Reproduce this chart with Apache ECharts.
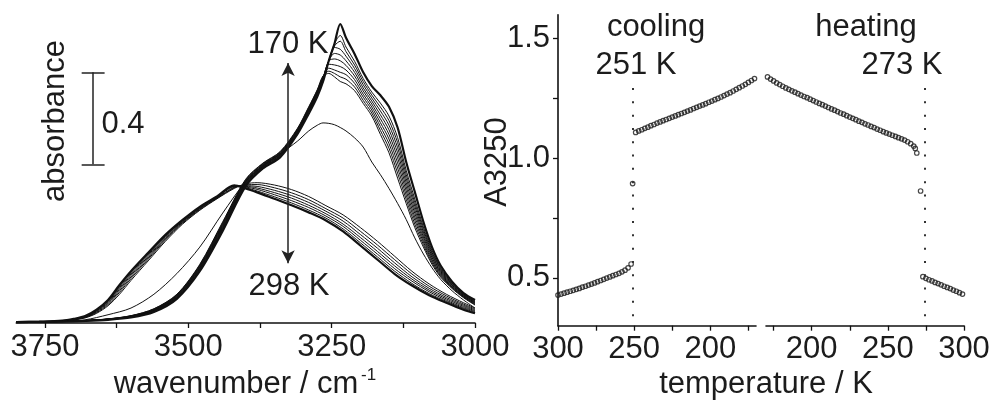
<!DOCTYPE html>
<html><head><meta charset="utf-8">
<script src="https://cdn.jsdelivr.net/npm/echarts@6/dist/echarts.min.js"></script>
<style>html,body{margin:0;padding:0;background:#fff}#c{width:995px;height:405px}</style>
</head><body><div id="c"></div><script>
// ---------- left panel: IR spectra ----------
const wnIce = [3800,3760,3720,3680,3640,3600,3560,3520,3480,3440,3400,3370,3340,3310,3290,3275,3265,3255,3245,3235,3225,3210,3195,3180,3165,3150,3135,3120,3105,3090,3075,3060,3040,3020,3000];
const ice0 = [0.004,0.005,0.006,0.009,0.014,0.024,0.048,0.105,0.225,0.400,0.595,0.672,0.720,0.820,0.910,0.985,1.050,1.140,1.215,1.300,1.240,1.170,1.090,1.030,0.990,0.940,0.850,0.700,0.570,0.440,0.330,0.250,0.180,0.130,0.100];
const ice1 = [0.004,0.005,0.006,0.009,0.015,0.026,0.051,0.109,0.231,0.408,0.601,0.677,0.725,0.825,0.916,0.991,1.055,1.140,1.215,1.250,1.200,1.138,1.063,1.004,0.956,0.900,0.806,0.664,0.539,0.418,0.315,0.240,0.174,0.126,0.096];
const ice2 = [0.004,0.005,0.006,0.010,0.015,0.026,0.052,0.111,0.234,0.412,0.604,0.679,0.728,0.828,0.919,0.994,1.058,1.140,1.205,1.225,1.180,1.122,1.050,0.991,0.939,0.880,0.784,0.646,0.523,0.407,0.307,0.235,0.171,0.124,0.093];
const ice3 = [0.004,0.005,0.006,0.010,0.016,0.027,0.054,0.113,0.237,0.416,0.607,0.681,0.730,0.830,0.922,0.997,1.060,1.140,1.198,1.190,1.160,1.106,1.036,0.978,0.922,0.860,0.762,0.628,0.508,0.396,0.300,0.230,0.168,0.122,0.091];
const ice4 = [0.004,0.005,0.0065,0.010,0.016,0.028,0.055,0.115,0.240,0.420,0.610,0.683,0.732,0.832,0.925,1.000,1.062,1.140,1.172,1.165,1.140,1.090,1.022,0.965,0.905,0.840,0.740,0.610,0.492,0.385,0.292,0.225,0.165,0.120,0.089];
const ice5 = [0.004,0.005,0.0066,0.0102,0.0164,0.029,0.056,0.117,0.243,0.424,0.613,0.686,0.735,0.835,0.928,1.003,1.065,1.140,1.148,1.140,1.120,1.074,1.009,0.952,0.888,0.820,0.718,0.592,0.477,0.374,0.285,0.220,0.162,0.118,0.087];
const ice6 = [0.004,0.005,0.0067,0.0104,0.0168,0.0296,0.058,0.119,0.246,0.428,0.616,0.688,0.737,0.837,0.931,1.006,1.067,1.125,1.122,1.115,1.100,1.058,0.995,0.939,0.871,0.800,0.696,0.574,0.461,0.363,0.277,0.215,0.159,0.116,0.085];
const ice7 = [0.004,0.005,0.0068,0.0106,0.0172,0.0304,0.059,0.121,0.249,0.432,0.619,0.690,0.740,0.840,0.934,1.009,1.070,1.108,1.100,1.090,1.080,1.042,0.982,0.926,0.854,0.780,0.674,0.556,0.446,0.352,0.270,0.210,0.156,0.114,0.082];
const ice8 = [0.004,0.005,0.0069,0.0108,0.0176,0.0312,0.061,0.123,0.252,0.436,0.622,0.693,0.742,0.842,0.937,1.012,1.072,1.095,1.085,1.070,1.060,1.026,0.968,0.913,0.837,0.760,0.652,0.538,0.430,0.341,0.262,0.205,0.153,0.112,0.080];
const ice9 = [0.004,0.005,0.007,0.011,0.018,0.032,0.062,0.125,0.255,0.440,0.625,0.695,0.745,0.845,0.940,1.015,1.075,1.085,1.070,1.050,1.040,1.010,0.955,0.900,0.820,0.740,0.630,0.520,0.415,0.330,0.255,0.200,0.150,0.110,0.078];
const mid251 = [0.003,0.005,0.008,0.014,0.036,0.065,0.125,0.215,0.330,0.478,0.615,0.683,0.735,0.790,0.835,0.860,0.870,0.868,0.862,0.850,0.835,0.805,0.765,0.700,0.645,0.585,0.520,0.450,0.370,0.300,0.240,0.190,0.140,0.100,0.065];

const wnLiq = [3800,3760,3720,3700,3680,3660,3640,3620,3600,3570,3540,3510,3480,3450,3420,3400,3380,3350,3320,3290,3260,3230,3200,3170,3140,3110,3080,3050,3020,3000];
const liq0 = [0.004,0.005,0.008,0.013,0.022,0.042,0.075,0.125,0.185,0.270,0.355,0.430,0.490,0.540,0.585,0.605,0.610,0.600,0.580,0.550,0.510,0.470,0.415,0.355,0.290,0.225,0.170,0.125,0.088,0.065];
const liq1 = [0.004,0.005,0.008,0.014,0.024,0.045,0.080,0.133,0.193,0.277,0.361,0.434,0.493,0.542,0.588,0.601,0.602,0.588,0.566,0.536,0.497,0.456,0.399,0.339,0.275,0.213,0.160,0.118,0.082,0.061];
const liq2 = [0.004,0.005,0.009,0.015,0.025,0.048,0.085,0.140,0.200,0.283,0.366,0.437,0.496,0.544,0.590,0.597,0.594,0.577,0.554,0.524,0.486,0.443,0.385,0.325,0.261,0.201,0.151,0.111,0.077,0.057];
const liq3 = [0.004,0.006,0.009,0.016,0.026,0.051,0.089,0.147,0.207,0.289,0.370,0.440,0.498,0.546,0.592,0.594,0.587,0.567,0.543,0.512,0.475,0.430,0.372,0.311,0.248,0.191,0.143,0.105,0.072,0.053];
const liq4 = [0.004,0.006,0.009,0.017,0.028,0.053,0.093,0.153,0.213,0.295,0.375,0.443,0.501,0.547,0.594,0.591,0.581,0.558,0.532,0.502,0.465,0.420,0.360,0.299,0.236,0.182,0.136,0.099,0.067,0.050];
const liq5 = [0.004,0.006,0.010,0.017,0.029,0.056,0.096,0.159,0.219,0.300,0.379,0.445,0.503,0.549,0.596,0.588,0.574,0.549,0.522,0.491,0.456,0.409,0.349,0.287,0.225,0.172,0.128,0.094,0.063,0.046];
const liq298 = [0.004,0.006,0.010,0.018,0.030,0.058,0.100,0.165,0.225,0.305,0.383,0.448,0.505,0.550,0.598,0.585,0.568,0.540,0.512,0.481,0.446,0.398,0.337,0.275,0.213,0.163,0.121,0.088,0.058,0.043];

const wnTicks = [3750,3500,3250,3000];
const wnMinor = [3625,3375,3125];
// scale bar (0.4 absorbance) and arrow, in data units
const barWn = 3666, barCapL = 3686, barCapR = 3646, barLo = 0.69, barHi = 1.09;
const arrowWn = 3326, arrowLo = 0.26, arrowHi = 1.13;

// ---------- right panel: A3250 vs temperature ----------
const coolT = [300,298,296,294,292,290,288,286,284,282,280,278,276,274,272,270,268,266,264,262,260,258,256,254,252,251,249,247,245,243,241,239,237,235,233,231,229,227,225,223,221,219,217,215,213,211,209,207,205,203,201,199,197,195,193,191,189,187,185,183,181,179,177,175,173,171];
const coolA = [0.428,0.432,0.436,0.440,0.444,0.448,0.452,0.456,0.461,0.465,0.470,0.474,0.479,0.484,0.489,0.494,0.499,0.504,0.509,0.514,0.519,0.525,0.532,0.542,0.558,0.894,1.108,1.114,1.119,1.125,1.130,1.136,1.141,1.147,1.152,1.157,1.162,1.167,1.172,1.177,1.182,1.187,1.192,1.197,1.202,1.208,1.213,1.218,1.223,1.228,1.234,1.239,1.245,1.250,1.256,1.262,1.268,1.274,1.281,1.288,1.295,1.302,1.309,1.317,1.325,1.333];
const heatT = [171,173,175,177,179,181,183,185,187,189,191,193,195,197,199,201,203,205,207,209,211,213,215,217,219,221,223,225,227,229,231,233,235,237,239,241,243,245,247,249,251,253,255,257,259,261,263,265,267,268,269,271.5,273,275,277,279,281,283,285,287,289,291,293,295,297,299];
const heatA = [1.340,1.331,1.323,1.315,1.308,1.301,1.294,1.288,1.282,1.276,1.270,1.264,1.258,1.253,1.247,1.241,1.235,1.229,1.224,1.218,1.212,1.206,1.201,1.195,1.189,1.184,1.178,1.172,1.167,1.161,1.155,1.150,1.144,1.139,1.133,1.128,1.122,1.117,1.111,1.106,1.101,1.096,1.091,1.086,1.081,1.076,1.069,1.061,1.051,1.041,1.022,0.863,0.505,0.498,0.492,0.487,0.481,0.476,0.471,0.465,0.460,0.455,0.449,0.444,0.438,0.432];
const tCool = 251, tHeat = 274.5, guideLo = 0.34, guideHi = 1.30;
const tTicks = [300,250,200];
const tMinor = [275,225,175];
const aTicks = [0.5,1.0,1.5];
const aMinor = [0.75,1.25];

const FONT = "'Liberation Sans', Arial, sans-serif";
const INK = '#1c1c1c';
const FS = 31;

function spec(wn, arr, w) {
  return {type:'line', xAxisIndex:0, yAxisIndex:0, data: wn.map((x,i)=>[x, arr[i]]),
    symbol:'none', smooth:0.3, lineStyle:{color:'#111', width:w}, silent:true, z:3};
}
const series = [];
[liq0,liq1,liq2,liq3,liq4,liq5].forEach(a=>series.push(spec(wnLiq,a,1)));
series.push(spec(wnLiq,liq298,2.2));
series.push(spec(wnIce,mid251,1));
[ice9,ice8,ice7,ice6,ice5,ice4,ice3,ice2,ice1].forEach(a=>series.push(spec(wnIce,a,1)));
series.push(spec(wnIce,ice0,2.2));
// scale bar + double arrow
series.push({type:'line', xAxisIndex:0, yAxisIndex:0, data:[], silent:true,
  markLine:{silent:true, symbol:'none', label:{show:false}, lineStyle:{color:'#222', width:1.5, type:'solid'},
    data:[[{coord:[barWn,barLo]},{coord:[barWn,barHi]}],[{coord:[barCapL,barHi]},{coord:[barCapR,barHi]}],[{coord:[barCapL,barLo]},{coord:[barCapR,barLo]}]]}});
series.push({type:'line', xAxisIndex:0, yAxisIndex:0, data:[], silent:true,
  markLine:{silent:true, symbol:['arrow','arrow'], symbolSize:[10,13], label:{show:false}, lineStyle:{color:'#222', width:1.5, type:'solid'},
    data:[[{coord:[arrowWn,arrowLo]},{coord:[arrowWn,arrowHi]}]]}});

const mk = {symbol:'circle', symbolSize:4.5, itemStyle:{color:'rgba(255,255,255,0)', borderColor:'#1a1a1a', borderWidth:1.2}};
series.push(Object.assign({type:'scatter', xAxisIndex:1, yAxisIndex:1, data: coolT.map((t,i)=>[t,coolA[i]]), silent:true,
  markLine:{silent:true, symbol:'none', label:{show:false}, lineStyle:{color:'#333', width:2, type:[2,11.3]},
    data:[[{coord:[tCool,guideLo]},{coord:[tCool,guideHi]}]]}}, mk));
series.push(Object.assign({type:'scatter', xAxisIndex:2, yAxisIndex:2, data: heatT.map((t,i)=>[t,heatA[i]]), silent:true,
  markLine:{silent:true, symbol:'none', label:{show:false}, lineStyle:{color:'#333', width:2, type:[2,11.3]},
    data:[[{coord:[tHeat,guideLo]},{coord:[tHeat,guideHi]}]]}}, mk));

const axLine = {show:true, lineStyle:{color:'#111', width:1.6}};
const lab = {fontSize:FS, fontFamily:FONT, color:INK};
function tAxis(idx, inverse) {
  return {gridIndex:idx, type:'value', min:170, max:300, inverse:inverse, axisLine:axLine,
    axisTick:{show:true, customValues:tTicks.concat(tMinor), length:5, lineStyle:{color:'#111', width:1.3}},
    axisLabel:Object.assign({customValues:tTicks, margin:8, formatter:v=>String(v)}, lab), splitLine:{show:false}};
}
const option = {
  animation:false,
  backgroundColor:'#fff',
  grid:[
    {left:16.3, top:1, width:458.7, height:322},
    {left:558, top:14.7, width:198, height:311},
    {left:766, top:14.7, width:198, height:311}
  ],
  xAxis:[
    {gridIndex:0, type:'value', min:3000, max:3800, inverse:true, axisLine:axLine,
      axisTick:{show:true, customValues:wnTicks.concat(wnMinor), length:5, lineStyle:{color:'#111', width:1.3}},
      axisLabel:Object.assign({customValues:wnTicks, margin:9, formatter:v=>String(v)}, lab), splitLine:{show:false}},
    tAxis(1,true), tAxis(2,false)
  ],
  yAxis:[
    {gridIndex:0, type:'value', min:0, max:1.4, show:false},
    {gridIndex:1, type:'value', min:0.3, max:1.6, axisLine:axLine,
      axisTick:{show:true, customValues:aTicks.concat(aMinor), length:5, lineStyle:{color:'#111', width:1.3}},
      axisLabel:Object.assign({customValues:aTicks, margin:8, formatter:v=>v.toFixed(1)}, lab), splitLine:{show:false}},
    {gridIndex:2, type:'value', min:0.3, max:1.6, show:false}
  ],
  series: series,
  graphic:[
    txt('absorbance', 55, 121, FS, Math.PI/2),
    txt('0.4', 123, 124, FS),
    txt('170 K', 288, 44, FS),
    txt('298 K', 289, 286, FS),
    txt('wavenumber / cm', 236, 384, FS),
    {type:'text', x:361, y:375, style:{text:'-1', fontSize:17, fontFamily:FONT, fill:INK, align:'left', verticalAlign:'middle'}},
    txt('A3250', 497, 162, FS, Math.PI/2),
    txt('cooling', 656, 27, FS),
    txt('251 K', 636, 65, FS),
    txt('heating', 866, 27, FS),
    txt('273 K', 902, 65, FS),
    txt('temperature / K', 766, 384, FS)
  ]
};
function txt(s, x, y, fs, rot) {
  return {type:'text', x:x, y:y, rotation:rot||0, z:10,
    style:{text:s, fontSize:fs, fontFamily:FONT, fill:INK, align:'center', verticalAlign:'middle'}};
}
const chart = echarts.init(document.getElementById('c'), null, {renderer:'canvas'});
chart.setOption(option);
</script></body></html>
